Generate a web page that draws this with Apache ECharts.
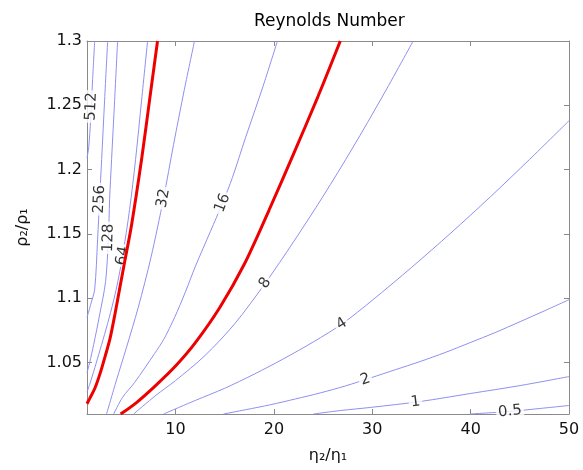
<!DOCTYPE html>
<html><head><meta charset="utf-8">
<script src="https://cdn.jsdelivr.net/npm/echarts@6/dist/echarts.min.js"></script>
<style>html,body{margin:0;padding:0;background:#fff}#c{width:583px;height:470px}</style>
</head><body><div id="c"></div>
<script>
// ---- data (η2/η1, ρ2/ρ1) ----
const xTicks = [10, 20, 30, 40, 50];
const yTicks = [1.05, 1.1, 1.15, 1.2, 1.25, 1.3];
const contourLevels = ['512', '256', '128', '64', '32', '16', '8', '4', '2', '1', '0.5'];

const re512 = [[1.78,1.3],[1.57,1.27],[1.37,1.239],[1.17,1.217],[1.0,1.209]];
const re256 = [[3.10,1.3],[2.79,1.254],[2.49,1.208],[2.28,1.177],[2.08,1.146],[1.78,1.107],[1.37,1.095],[1.0,1.085]];
const re128 = [[4.11,1.3],[3.81,1.254],[3.50,1.208],[3.30,1.177],[3.18,1.147],[2.89,1.113],[2.28,1.087],[1.68,1.064],[1.27,1.050],[1.0,1.042]];
const re64 = [[7.16,1.3],[6.55,1.254],[5.94,1.208],[5.33,1.169],[4.62,1.133],[4.0,1.108],[3.4,1.089],[2.79,1.072],[2.18,1.056],[1.68,1.043],[1.27,1.033],[1.0,1.027]];
const re32 = [[11.93,1.3],[10.9,1.2624],[9.8,1.2195],[8.78,1.1777],[7.5,1.1316],[6.2,1.0926],[5.0,1.0614],[4.0,1.0364],[2.99,1.01]];
const re16 = [[20.36,1.3],[18.84,1.2635],[17.11,1.2247],[15.79,1.194],[14.78,1.174],[13.55,1.152],[12.03,1.125],[11.01,1.105],[9.9,1.085],[8.8,1.068],[7.87,1.057],[5.84,1.0345],[4.62,1.023],[3.71,1.01]];
const re8 = [[34.16,1.3],[31,1.2564],[28,1.2168],[25,1.1793],[22,1.1439],[19.13,1.1118],[16,1.080],[13,1.0555],[10,1.036],[8,1.0245],[5.74,1.01]];
const re4 = [[50,1.238],[46,1.208],[42,1.1788],[38,1.1508],[34,1.124],[30,1.0984],[27,1.0804],[24,1.066],[21,1.053],[18,1.041],[15,1.030],[12,1.0205],[8.78,1.01]];
const re2 = [[50,1.0989],[47.56,1.0904],[45.03,1.0818],[42.49,1.0733],[39.95,1.0655],[37.41,1.0578],[34.87,1.0508],[32.33,1.0444],[29.80,1.038],[27.26,1.0318],[24.72,1.0264],[22.19,1.0217],[19.65,1.0172],[17.11,1.0133],[14.88,1.01]];
const re1 = [[50,1.0391],[45.03,1.0321],[39.95,1.0259],[34.87,1.0197],[29.80,1.0151],[26.76,1.0127],[24.02,1.01]];
const re05 = [[50,1.0166],[47.06,1.0143],[44.01,1.012],[39.95,1.01]];

const redLineA = [[8.17,1.3],[7.36,1.254],[6.55,1.208],[5.53,1.157],[4.82,1.128],[4.31,1.107],[3.85,1.088],[3.35,1.069],[2.85,1.055],[2.35,1.042],[1.8,1.030],[1.27,1.022],[1.0,1.018]];
const redLineB = [[26.75,1.3],[24.5,1.2572],[22,1.2122],[19.5,1.1684],[17,1.1266],[14.5,1.0928],[12,1.0653],[10,1.0473],[8,1.0323],[6,1.0187],[4.42,1.01]];

const labelAnchors = [[1.45,1.249],[2.28,1.177],[3.18,1.147],[4.62,1.133],[8.78,1.1777],[14.78,1.174],[19.13,1.1118],[26.9,1.080],[29.3,1.0367],[34.4,1.0193],[44.0,1.012]];

const contourLines = [re512, re256, re128, re64, re32, re16, re8, re4, re2, re1, re05];

// ---- chart ----
const FONT = 'DejaVu Sans';
const AX = '#8a8a8a';
const chart = echarts.init(document.getElementById('c'), null, {renderer: 'canvas'});

function axisCommon(extra) {
  return Object.assign({
    type: 'value',
    splitLine: {show: false},
    axisLine: {show: true, onZero: false, lineStyle: {color: AX, width: 1}},
  }, extra);
}

const series = [];
contourLines.forEach((d, i) => {
  series.push({
    type: 'line', name: contourLevels[i], data: d, showSymbol: false, symbol: 'none',
    smooth: 0.3, z: 2, silent: true,
    lineStyle: {color: '#8f8ff0', width: 1}
  });
});
[redLineA, redLineB].forEach((d) => {
  series.push({
    type: 'line', data: d, showSymbol: false, symbol: 'none', smooth: 0.3, z: 5, silent: true,
    lineStyle: {color: '#ee0000', width: 3}
  });
});
const labelSeriesIndex = series.length;
series.push({
  type: 'scatter', z: 4, silent: true, symbolSize: 0.1,
  itemStyle: {color: 'rgba(0,0,0,0)'},
  label: {show: true, position: 'inside', formatter: '{b}', color: '#000', fontFamily: FONT,
          fontSize: 15, backgroundColor: '#fff', padding: [0, 2]},
  data: labelAnchors.map((p, i) => ({name: contourLevels[i], value: p}))
});

const option = {
  animation: false,
  backgroundColor: '#fff',
  title: {text: 'Reynolds Number', left: 249, top: 8,
          textStyle: {fontFamily: FONT, fontSize: 17, fontWeight: 'normal', color: '#000'}},
  grid: {left: 87, right: 14, top: 41, bottom: 56, containLabel: false},
  xAxis: [
    axisCommon({min: 1, max: 50, position: 'bottom',
      axisTick: {show: true, inside: true, length: 5, customValues: xTicks, lineStyle: {color: AX}},
      axisLabel: {customValues: xTicks, fontFamily: FONT, fontSize: 16, color: '#111', margin: 8},
      name: 'η₂/η₁', nameLocation: 'middle', nameGap: 34,
      nameTextStyle: {fontFamily: FONT, fontSize: 16, color: '#111'}}),
    axisCommon({min: 1, max: 50, position: 'top',
      axisTick: {show: true, inside: true, length: 5, customValues: xTicks, lineStyle: {color: AX}},
      axisLabel: {show: false}})
  ],
  yAxis: [
    axisCommon({min: 1.01, max: 1.3, position: 'left',
      axisTick: {show: true, inside: true, length: 5, customValues: yTicks, lineStyle: {color: AX}},
      axisLabel: {customValues: yTicks, fontFamily: FONT, fontSize: 16, color: '#111', margin: 5},
      name: 'ρ₂/ρ₁', nameLocation: 'middle', nameGap: 56,
      nameTextStyle: {fontFamily: FONT, fontSize: 16, color: '#111'}}),
    axisCommon({min: 1.01, max: 1.3, position: 'right',
      axisTick: {show: true, inside: true, length: 5, customValues: yTicks, lineStyle: {color: AX}},
      axisLabel: {show: false}})
  ],
  series: series
};
chart.setOption(option);

// rotate each contour label along its line
function labelAngle(line, anchor) {
  const P = line.map(p => chart.convertToPixel({gridIndex: 0}, p));
  const a = chart.convertToPixel({gridIndex: 0}, anchor);
  let best = 0, bd = Infinity;
  for (let i = 0; i < P.length - 1; i++) {
    const mx = (P[i][0] + P[i+1][0]) / 2, my = (P[i][1] + P[i+1][1]) / 2;
    const d = (mx - a[0]) ** 2 + (my - a[1]) ** 2;
    if (d < bd) { bd = d; best = i; }
  }
  const p1 = P[best], p2 = P[best + 1];
  let ang = Math.atan2(-(p2[1] - p1[1]), p2[0] - p1[0]) * 180 / Math.PI;
  if (ang > 90) ang -= 180;
  if (ang < -90) ang += 180;
  return ang;
}
const rotated = labelAnchors.map((p, i) => ({
  name: contourLevels[i], value: p, label: {rotate: labelAngle(contourLines[i], p)}
}));
const upd = {series: []};
for (let i = 0; i < labelSeriesIndex; i++) upd.series.push({});
upd.series.push({data: rotated});
chart.setOption(upd);
</script>
</body></html>
